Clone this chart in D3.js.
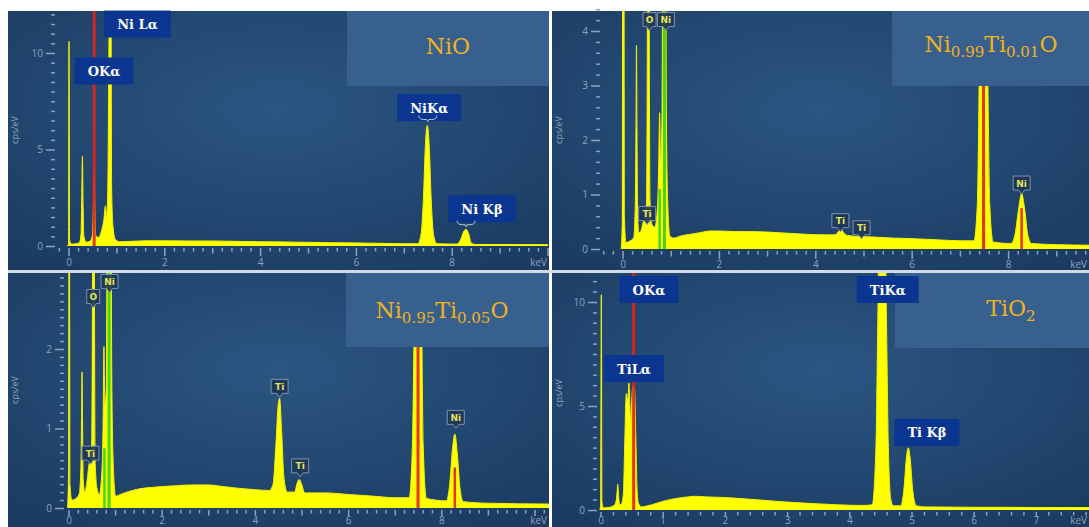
<!DOCTYPE html>
<html>
<head>
<meta charset="utf-8">
<script src="https://cdn.jsdelivr.net/npm/d3@7"></script>
<style>
  body { margin: 0; background: #fff; }
  svg { display: block; }
</style>
</head>
<body>
<script>
// EDS spectra, [keV, cps/eV]
const nioSpectrum = [
  [-0.05, 0], [-0.01, 0.05], [0.0, 10.6], [0.012, 0.3], [0.05, 0.1], [0.15, 0.12], [0.22, 0.2],
  [0.25, 0.6], [0.265, 2.5], [0.28, 4.65], [0.295, 2.0], [0.31, 0.5], [0.36, 0.2], [0.44, 0.25],
  [0.49, 0.6], [0.51, 2.2], [0.525, 3.7], [0.54, 2.0], [0.56, 0.5], [0.62, 0.45], [0.68, 0.8],
  [0.73, 1.4], [0.76, 2.08], [0.785, 1.5], [0.81, 3], [0.83, 9], [0.845, 14], [0.875, 14], [0.89, 3],
  [0.92, 1.0], [0.965, 0.35], [1.05, 0.22], [1.3, 0.24], [1.6, 0.27], [2.0, 0.27], [2.5, 0.26],
  [3.0, 0.26], [3.5, 0.24], [4.0, 0.22], [4.5, 0.21], [5.0, 0.19], [5.5, 0.17], [6.0, 0.16],
  [6.5, 0.14], [7.0, 0.12], [7.28, 0.12], [7.35, 0.6], [7.4, 2.5], [7.44, 5.2], [7.48, 6.25],
  [7.52, 5.2], [7.56, 2.5], [7.61, 0.6], [7.68, 0.12], [8.1, 0.1], [8.18, 0.35], [8.24, 0.75],
  [8.29, 0.87], [8.34, 0.65], [8.4, 0.15], [8.48, 0.08], [9.0, 0.08], [10.0, 0.07]
];
const ni99Spectrum = [
  [-0.04, 0], [-0.015, 0.5], [-0.005, 9], [0.015, 9], [0.03, 0.6], [0.06, 0.12], [0.15, 0.15],
  [0.22, 0.2], [0.255, 0.8], [0.27, 2.4], [0.28, 3.74], [0.29, 2.2], [0.305, 0.6], [0.33, 0.3],
  [0.38, 0.35], [0.42, 0.5], [0.46, 0.56], [0.49, 0.9], [0.505, 4], [0.515, 8], [0.535, 8],
  [0.545, 4], [0.56, 0.9], [0.6, 0.45], [0.66, 0.4], [0.71, 0.7], [0.74, 1.5], [0.76, 2.5],
  [0.78, 1.6], [0.81, 2.5], [0.83, 8], [0.88, 8], [0.9, 2.5], [0.93, 0.8], [0.97, 0.25],
  [1.05, 0.2], [1.2, 0.24], [1.4, 0.27], [1.6, 0.3], [1.8, 0.33], [2.0, 0.33], [2.3, 0.32],
  [2.6, 0.32], [3.0, 0.31], [3.4, 0.29], [3.8, 0.27], [4.2, 0.26], [4.4, 0.26], [4.47, 0.32],
  [4.52, 0.36], [4.58, 0.3], [4.65, 0.25], [4.9, 0.23], [5.2, 0.22], [5.6, 0.2], [6.0, 0.19],
  [6.5, 0.17], [7.0, 0.15], [7.28, 0.15], [7.35, 0.8], [7.4, 4], [7.45, 9], [7.51, 9], [7.56, 4],
  [7.61, 0.8], [7.68, 0.13], [8.05, 0.1], [8.14, 0.3], [8.21, 0.75], [8.27, 1.02], [8.33, 0.75],
  [8.4, 0.25], [8.48, 0.1], [9.0, 0.08], [9.7, 0.07]
];
const ni95Spectrum = [
  [-0.03, 0], [-0.008, 0.5], [0.0, 5], [0.008, 5], [0.02, 0.3], [0.06, 0.1], [0.15, 0.12],
  [0.22, 0.18], [0.255, 0.5], [0.27, 1.2], [0.28, 1.71], [0.29, 1.1], [0.305, 0.35], [0.34, 0.2],
  [0.39, 0.35], [0.43, 0.55], [0.46, 0.6], [0.49, 0.9], [0.505, 3], [0.515, 5], [0.535, 5],
  [0.545, 3], [0.56, 0.6], [0.6, 0.25], [0.65, 0.17], [0.7, 0.4], [0.73, 1.0], [0.75, 2.03],
  [0.77, 1.3], [0.8, 1.5], [0.83, 5], [0.89, 5], [0.92, 1.5], [0.96, 0.4], [1.0, 0.15],
  [1.1, 0.17], [1.3, 0.21], [1.5, 0.24], [1.8, 0.26], [2.0, 0.27], [2.3, 0.28], [2.6, 0.29],
  [3.0, 0.29], [3.3, 0.27], [3.6, 0.25], [4.0, 0.23], [4.3, 0.22], [4.38, 0.3], [4.44, 0.8],
  [4.49, 1.3], [4.52, 1.38], [4.56, 1.0], [4.61, 0.4], [4.68, 0.2], [4.84, 0.2], [4.9, 0.32],
  [4.94, 0.36], [4.99, 0.3], [5.06, 0.19], [5.5, 0.19], [6.0, 0.17], [6.5, 0.15], [7.0, 0.13],
  [7.3, 0.13], [7.37, 0.8], [7.42, 3], [7.46, 5], [7.52, 5], [7.56, 3], [7.6, 0.8], [7.67, 0.12],
  [8.1, 0.09], [8.17, 0.3], [8.23, 0.75], [8.28, 0.93], [8.33, 0.7], [8.39, 0.25], [8.46, 0.08],
  [9.0, 0.06], [10.3, 0.05]
];
const tio2Spectrum = [
  [-0.02, 0], [-0.005, 0.3], [0.005, 10.35], [0.015, 0.4], [0.04, 0.1], [0.12, 0.12], [0.2, 0.2],
  [0.24, 0.4], [0.26, 0.9], [0.27, 1.23], [0.285, 0.6], [0.3, 0.25], [0.33, 0.3], [0.36, 0.8],
  [0.38, 3], [0.4, 5.3], [0.41, 5.6], [0.43, 5.2], [0.45, 6.1], [0.465, 5], [0.48, 4.2],
  [0.5, 5.6], [0.52, 6.0], [0.54, 5.8], [0.56, 3.5], [0.58, 1], [0.6, 0.35], [0.65, 0.15],
  [0.75, 0.2], [0.9, 0.33], [1.0, 0.42], [1.2, 0.55], [1.4, 0.63], [1.5, 0.66], [1.7, 0.63],
  [2.0, 0.6], [2.3, 0.54], [2.6, 0.47], [3.0, 0.38], [3.4, 0.31], [3.8, 0.25], [4.2, 0.22],
  [4.36, 0.25], [4.42, 3], [4.45, 9], [4.47, 13], [4.57, 13], [4.59, 9], [4.62, 3], [4.66, 0.5],
  [4.7, 0.2], [4.82, 0.2], [4.87, 1.0], [4.91, 2.5], [4.94, 2.99], [4.97, 2.5], [5.01, 1.0],
  [5.07, 0.2], [5.2, 0.15], [5.6, 0.14], [6.0, 0.13], [6.5, 0.13], [7.0, 0.12], [7.9, 0.12]
];

// element marker lines: [keV, top cps (null = full height), colour]
const nioLines = [[0.525, null, 'red']];
const ni99Lines = [[0.76, 1.1, 'green'], [0.86, null, 'green'], [7.48, null, 'red'], [8.27, 0.75, 'red']];
const ni95Lines = [[0.76, 0.75, 'green'], [0.86, null, 'green'], [7.49, null, 'red'], [8.28, 0.51, 'red']];
const tio2Lines = [[0.525, null, 'red']];

// big label boxes: [text, keV, cps] at box centre
const nioLabels = [['Ni Lα', 1.43, 11.5], ['OKα', 0.73, 9.07], ['NiKα', 7.52, 7.17], ['Ni Kβ', 8.62, 1.93]];
const tio2Labels = [['OKα', 0.77, 10.6], ['TiKα', 4.61, 10.6], ['TiLα', 0.53, 6.8], ['Ti Kβ', 5.24, 3.73]];
// bracket pointers under the boxes: [keV, cps]
const nioPointers = [[7.49, 6.45], [8.29, 1.0]];

// small element tags: [text, keV, cps] at tag centre
const ni99Tags = [['O', 0.55, 4.21], ['Ni', 0.89, 4.21], ['Ti', 0.5, 0.65], ['Ti', 4.51, 0.52], ['Ti', 4.95, 0.39], ['Ni', 8.27, 1.21]];
const ni95Tags = [['O', 0.52, 2.66], ['Ni', 0.87, 2.85], ['Ti', 0.46, 0.69], ['Ti', 4.52, 1.53], ['Ti', 4.96, 0.53], ['Ni', 8.3, 1.14]];

// titles as runs of [text, subscript]
const nioTitle = [['NiO', false]];
const ni99Title = [['Ni', false], ['0.99', true], ['Ti', false], ['0.01', true], ['O', false]];
const ni95Title = [['Ni', false], ['0.95', true], ['Ti', false], ['0.05', true], ['O', false]];
const tio2Title = [['TiO', false], ['2', true]];

// axis tick labels
const nioYTicks = [0, 5, 10];
const ni99YTicks = [0, 1, 2, 3, 4];
const ni95YTicks = [0, 1, 2];
const tio2YTicks = [0, 5, 10];
const nioXTicks = [0, 2, 4, 6, 8];
const ni99XTicks = [0, 2, 4, 6, 8];
const ni95XTicks = [0, 2, 4, 6, 8];
const tio2XTicks = [0, 1, 2, 3, 4, 5, 6, 7];

const colors = { red: '#e3231b', green: '#3fd11f' };
const axisColor = '#8ea2bc';

const panels = [
  { box: [8, 11, 541, 259], x0: 69, kev: 47.9, y0: 246, unit: 19.3, axisX: 55, xFrom: -0.2, xTo: 10,
    yStep: 0.5, yMax: 12, yTicks: nioYTicks, xTicks: nioXTicks, spectrum: nioSpectrum, lines: nioLines,
    labels: nioLabels, pointers: nioPointers, tags: [], title: nioTitle,
    titleBox: [347, 11, 202, 75], titleX: 448, titleY: 54, cpsY: 130, xLab: 18, major: 8 },
  { box: [552, 11, 537, 259], x0: 623, kev: 48.2, y0: 249, unit: 54.5, axisX: 600, xFrom: -0.4, xTo: 9.7,
    yStep: 0.2, yMax: 4.4, yTicks: ni99YTicks, xTicks: ni99XTicks, spectrum: ni99Spectrum, lines: ni99Lines,
    labels: [], pointers: [], tags: ni99Tags, title: ni99Title,
    titleBox: [892, 11, 197, 75], titleX: 991, titleY: 52, cpsY: 130, xLab: 17, major: 8 },
  { box: [8, 273, 541, 254], x0: 69, kev: 46.6, y0: 508, unit: 79.5, axisX: 64, xFrom: 0, xTo: 10.2,
    yStep: 0.1, yMax: 2.95, yTicks: ni95YTicks, xTicks: ni95XTicks, spectrum: ni95Spectrum, lines: ni95Lines,
    labels: [], pointers: [], tags: ni95Tags, title: ni95Title,
    titleBox: [346, 273, 203, 74], titleX: 442, titleY: 318, cpsY: 390, xLab: 13.5, major: 6 },
  { box: [552, 273, 537, 254], x0: 601, kev: 62.2, y0: 510, unit: 20.8, axisX: 597, xFrom: 0, xTo: 7.9,
    yStep: 0.5, yMax: 11, yTicks: tio2YTicks, xTicks: tio2XTicks, spectrum: tio2Spectrum, lines: tio2Lines,
    labels: tio2Labels, pointers: [], tags: [], title: tio2Title,
    titleBox: [895, 273, 194, 75], titleX: 1011, titleY: 316, cpsY: 393, xLab: 11.5, major: 5 }
];

const svg = d3.select('body').append('svg')
  .attr('width', 1089)
  .attr('height', 527)
  .style('background', '#fff');

const defs = svg.append('defs');
const grad = defs.append('radialGradient').attr('id', 'bg')
  .attr('cx', '50%').attr('cy', '38%').attr('r', '75%');
grad.append('stop').attr('offset', '0%').attr('stop-color', '#2b5682');
grad.append('stop').attr('offset', '100%').attr('stop-color', '#1b3b62');

// separator band between the two rows
svg.append('rect').attr('x', 8).attr('y', 270).attr('width', 1081).attr('height', 3).attr('fill', '#d3dbe5');

panels.forEach((p, i) => {
  const [bx, by, bw, bh] = p.box;
  const g = svg.append('g');
  const x = d3.scaleLinear().domain([0, 1]).range([p.x0, p.x0 + p.kev]);
  const y = d3.scaleLinear().domain([0, 1]).range([p.y0, p.y0 - p.unit]);

  g.append('rect').attr('x', bx).attr('y', by).attr('width', bw).attr('height', bh).attr('fill', 'url(#bg)');

  defs.append('clipPath').attr('id', 'clip' + i)
    .append('rect').attr('x', bx).attr('y', by).attr('width', bw).attr('height', p.y0 - by + 0.5);

  const plot = g.append('g').attr('clip-path', `url(#clip${i})`);

  const area = d3.area()
    .x(d => x(d[0]))
    .y0(y(0))
    .y1(d => y(d[1]))
    .curve(d3.curveMonotoneX);
  const line = d3.line()
    .x(d => x(d[0]))
    .y(d => y(d[1]))
    .curve(d3.curveMonotoneX);

  plot.append('path').datum(p.spectrum).attr('d', area).attr('fill', '#ffff00');
  plot.append('path').datum(p.spectrum).attr('d', line)
    .attr('fill', 'none').attr('stroke', '#f2f200').attr('stroke-width', 1);

  // marker lines
  plot.selectAll('line.mk').data(p.lines).join('line')
    .attr('x1', d => x(d[0])).attr('x2', d => x(d[0]))
    .attr('y1', y(0)).attr('y2', d => d[1] === null ? by : y(d[1]))
    .attr('stroke', d => colors[d[2]])
    .attr('stroke-width', d => d[1] === null ? 3 : 2.5)
    .attr('opacity', d => d[2] === 'red' ? 0.92 : 0.95);

  // title box
  const [tx, ty, tw, th] = p.titleBox;
  g.append('rect').attr('x', tx).attr('y', ty).attr('width', tw).attr('height', th).attr('fill', '#38608e');
  const title = g.append('text')
    .attr('x', p.titleX).attr('y', p.titleY)
    .attr('text-anchor', 'middle')
    .attr('font-family', '"DejaVu Serif", serif')
    .attr('font-size', 22)
    .attr('fill', '#f0b21c');
  let shift = 0;
  p.title.forEach(([s, sub]) => {
    const ts = title.append('tspan').text(s);
    if (sub) { ts.attr('font-size', 15).attr('dy', 5 - shift); shift = 5; }
    else { ts.attr('dy', -shift); shift = 0; }
  });

  // big label boxes
  p.labels.forEach(([s, kx, cy]) => {
    const lg = g.append('g');
    const t = lg.append('text')
      .attr('x', x(kx)).attr('y', y(cy) + 5)
      .attr('text-anchor', 'middle')
      .attr('font-family', '"DejaVu Serif", serif')
      .attr('font-weight', 'bold')
      .attr('font-size', 13)
      .attr('fill', '#fff')
      .text(s);
    const w = t.node().getComputedTextLength() + 26;
    lg.insert('rect', 'text')
      .attr('x', x(kx) - w / 2).attr('y', y(cy) - 13.5)
      .attr('width', w).attr('height', 27)
      .attr('fill', '#0a3591');
  });

  p.pointers.forEach(([kx, cy]) => {
    const px = x(kx), py = y(cy);
    g.append('path')
      .attr('d', `M${px - 9},${py - 6} Q${px - 9},${py - 2} ${px - 4},${py - 2} L${px - 1},${py - 2} L${px},${py} L${px + 1},${py - 2} L${px + 4},${py - 2} Q${px + 9},${py - 2} ${px + 9},${py - 6}`)
      .attr('fill', 'none').attr('stroke', '#b9c5d3').attr('stroke-width', 1);
  });

  // small element tags
  p.tags.forEach(([s, kx, cy]) => {
    const cx = x(kx), cyp = y(cy);
    const w = s.length > 1 ? 17 : 13, h = 14;
    const l = cx - w / 2, t = cyp - h / 2, b = cyp + h / 2;
    g.append('path')
      .attr('d', `M${l},${t} H${l + w} V${b} H${cx + 3} L${cx},${b + 4} L${cx - 3},${b} H${l} Z`)
      .attr('fill', '#1d3656').attr('fill-opacity', 0.9)
      .attr('stroke', '#7f93ab').attr('stroke-width', 1);
    g.append('text')
      .attr('x', cx).attr('y', cyp + 3.5)
      .attr('text-anchor', 'middle')
      .attr('font-family', '"DejaVu Sans", sans-serif')
      .attr('font-weight', 'bold')
      .attr('font-size', 9)
      .attr('fill', '#e6e25a')
      .text(s);
  });

  // x axis
  const xg = g.append('g').attr('transform', `translate(0,${p.y0 + 2})`);
  const labelStep = p.xTicks[1] - p.xTicks[0];
  const minor = d3.range(p.xFrom, p.xTo + 0.001, 0.2).map(v => +v.toFixed(2));
  xg.selectAll('line').data(minor).join('line')
    .attr('x1', d => x(d)).attr('x2', d => x(d))
    .attr('y1', 0)
    .attr('y2', d => Math.abs(d % labelStep) < 0.01 ? p.major : (Math.abs(d % 1) < 0.01 ? 5.5 : 3.5))
    .attr('stroke', axisColor).attr('stroke-width', 1.5);
  xg.selectAll('text').data(p.xTicks).join('text')
    .attr('x', d => x(d)).attr('y', p.xLab)
    .attr('text-anchor', 'middle')
    .attr('font-family', '"Open Sans", sans-serif')
    .attr('font-size', 10)
    .attr('fill', axisColor)
    .text(d => d);
  xg.append('text')
    .attr('x', bx + bw - 2).attr('y', p.xLab)
    .attr('text-anchor', 'end')
    .attr('font-family', '"Open Sans", sans-serif')
    .attr('font-size', 10)
    .attr('fill', axisColor)
    .text('keV');

  // y axis
  const yMinor = d3.range(0, p.yMax + 0.001, p.yStep).map(v => +v.toFixed(2))
    .filter(v => !p.yTicks.includes(v));
  const ya = g.append('g').attr('transform', `translate(${p.axisX},0)`);
  ya.append('g')
    .call(d3.axisLeft(y).tickValues(yMinor).tickSize(4).tickFormat(''))
    .call(s => s.select('.domain').remove())
    .call(s => s.selectAll('line').attr('stroke', axisColor).attr('stroke-width', 1.5));
  ya.append('g')
    .call(d3.axisLeft(y).tickValues(p.yTicks).tickSize(9).tickPadding(3).tickFormat(d3.format('d')))
    .call(s => s.select('.domain').remove())
    .call(s => s.selectAll('line').attr('stroke', axisColor).attr('stroke-width', 1.5))
    .call(s => s.selectAll('text').attr('fill', axisColor)
      .attr('font-family', '"Open Sans", sans-serif').attr('font-size', 10));

  g.append('text')
    .attr('transform', `translate(${bx + 10},${p.cpsY}) rotate(-90)`)
    .attr('text-anchor', 'middle')
    .attr('font-family', '"Open Sans", sans-serif')
    .attr('font-size', 9)
    .attr('fill', axisColor)
    .text('cps/eV');
});
</script>
</body>
</html>
